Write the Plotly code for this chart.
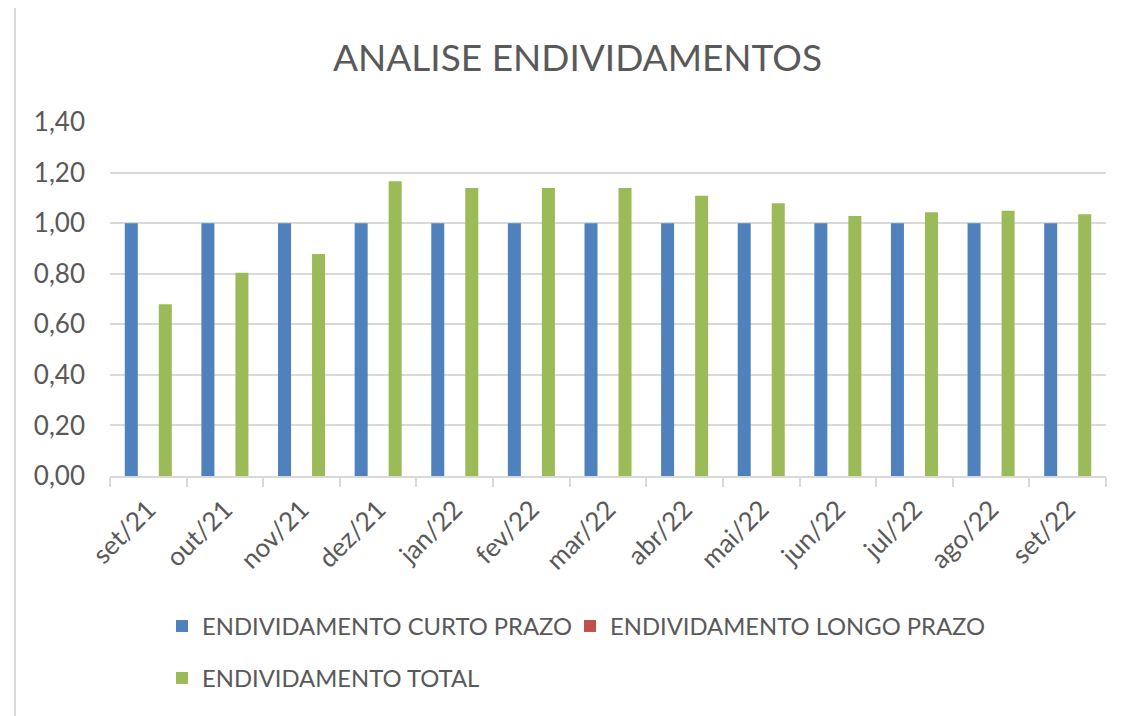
import plotly.graph_objects as go

categories = ["set/21", "out/21", "nov/21", "dez/21", "jan/22", "fev/22", "mar/22",
              "abr/22", "mai/22", "jun/22", "jul/22", "ago/22", "set/22"]
curto_prazo = [1.00, 1.00, 1.00, 1.00, 1.00, 1.00, 1.00, 1.00, 1.00, 1.00, 1.00, 1.00, 1.00]
longo_prazo = [0.00, 0.00, 0.00, 0.00, 0.00, 0.00, 0.00, 0.00, 0.00, 0.00, 0.00, 0.00, 0.00]
total = [0.679, 0.804, 0.878, 1.166, 1.139, 1.139, 1.139, 1.108, 1.079, 1.028, 1.043, 1.049, 1.035]
y_ticks = [0.0, 0.2, 0.4, 0.6, 0.8, 1.0, 1.2, 1.4]

TXT = "#595959"
GRID = "#D9D9D9"
FONT = "Lato"

# page draws the figure at an 8px body margin; work in page (reference) pixels
OFF = 8
PAGE_W, PAGE_H = 1127, 716
W, H = PAGE_W - OFF, PAGE_H - OFF
# plot area in page pixels
PX0, PX1, PY0, PY1 = 110, 1106, 122, 476
L, R, T, B = PX0 - OFF, (PAGE_W - PX1), PY0 - OFF, (PAGE_H - PY1)
pw, ph = PX1 - PX0, PY1 - PY0

def px_x(p):
    return (p - PX0) / pw

def px_y(p):
    return (PY1 - p) / ph

def legend_box(xpix, ypix):
    return dict(orientation="h", x=px_x(xpix), xanchor="left", y=px_y(ypix), yanchor="middle",
                font=dict(size=23.8, color=TXT), bgcolor="rgba(0,0,0,0)", itemwidth=30)

fig = go.Figure()
fig.add_trace(go.Bar(x=categories, y=curto_prazo, name="ENDIVIDAMENTO CURTO PRAZO",
                     marker=dict(color="#4F81BD", line=dict(width=0)), legend="legend"))
fig.add_trace(go.Bar(x=categories, y=longo_prazo, name="ENDIVIDAMENTO LONGO PRAZO",
                     marker=dict(color="#C0504D", line=dict(width=0)), legend="legend3"))
fig.add_trace(go.Bar(x=categories, y=total, name="ENDIVIDAMENTO TOTAL",
                     marker=dict(color="#9BBB59", line=dict(width=0)), legend="legend2"))

fig.update_layout(
    width=W, height=H,
    margin=dict(l=L, r=R, t=T, b=B, autoexpand=False),
    paper_bgcolor="white", plot_bgcolor="white",
    separators=",.",
    barmode="group", bargap=0.334, bargroupgap=0.235,
    font=dict(family=FONT, color=TXT),
    title=dict(text="ANALISE ENDIVIDAMENTOS", x=(577.5 - OFF) / W, xanchor="center",
               y=1 - (58 - OFF) / H, yanchor="middle", yref="container",
               font=dict(family=FONT, size=37, color=TXT)),
    xaxis=dict(showline=True, linecolor=GRID, linewidth=2, ticks="outside",
               tickson="boundaries", ticklen=9, tickcolor=GRID, tickwidth=2,
               tickangle=-45, tickfont=dict(size=26, color=TXT), showgrid=False,
               ticklabelstandoff=6),
    yaxis=dict(range=[0, 1.4], tickvals=y_ticks, tickformat=".2f", showgrid=True,
               gridcolor=GRID, gridwidth=2, zeroline=False, showline=False,
               ticks="", tickfont=dict(size=26, color=TXT), ticklabelstandoff=24),
    legend=legend_box(162, 626),
    legend3=legend_box(570, 626),
    legend2=legend_box(162, 678),
    showlegend=True,
)

# chart frame (left and top edges)
fig.add_shape(type="line", xref="paper", yref="paper", x0=px_x(15), x1=px_x(15),
              y0=px_y(7), y1=px_y(PAGE_H), line=dict(color=GRID, width=2))
fig.add_shape(type="line", xref="paper", yref="paper", x0=px_x(15), x1=px_x(PAGE_W),
              y0=px_y(7), y1=px_y(7), line=dict(color=GRID, width=2))

fig.write_html("out.html")
